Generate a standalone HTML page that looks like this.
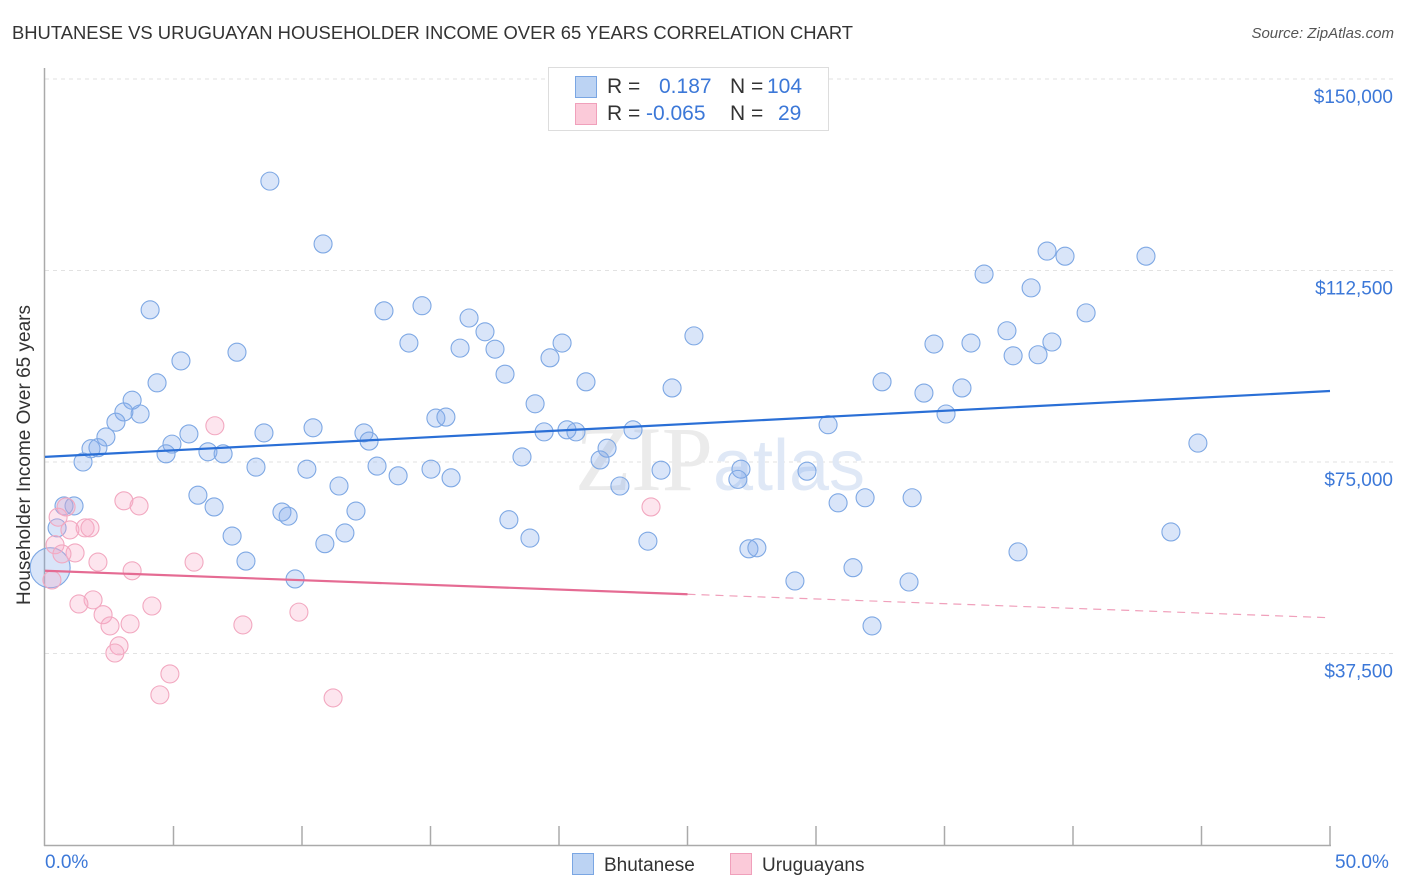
<!DOCTYPE html>
<html><head><meta charset="utf-8"><style>
body{margin:0;background:#fff;font-family:"Liberation Sans",sans-serif;}
#wrap{position:relative;width:1406px;height:892px;overflow:hidden;}
.t{position:absolute;white-space:nowrap;}
</style></head><body>
<div id="wrap">
<div class="t" style="left:12px;top:22px;font-size:18.4px;color:#333;">BHUTANESE VS URUGUAYAN HOUSEHOLDER INCOME OVER 65 YEARS CORRELATION CHART</div>
<div class="t" style="right:12px;top:25px;font-size:15px;color:#555;font-style:italic;">Source: ZipAtlas.com</div>
<svg id="svg" width="1406" height="892" style="position:absolute;left:0;top:0"></svg>
</div>
<script>
const blueX=[8.75,10.82,4.09,13.19,14.67,16.5,17.12,14.16,16.15,17.51,20.12,19.65,5.29,7.47,4.36,17.9,21.05,19.07,3.39,3.07,3.7,2.76,2.37,1.79,2.06,1.48,4.94,4.71,5.6,6.34,6.93,8.52,10.43,12.41,12.61,15.21,15.6,19.42,20.31,20.66,22.88,21.87,21.6,18.56,8.21,10.19,12.92,15.02,15.8,13.74,11.44,22.37,23.97,24.4,25.25,5.95,6.58,9.22,9.46,12.1,10.89,11.67,7.28,7.82,9.73,18.05,18.87,23.46,27.08,26.96,29.65,27.39,27.7,29.18,30.86,31.91,33.74,31.44,32.18,33.62,37.86,43.81,44.86,30.47,32.57,34.2,35.06,35.68,34.59,36.03,37.43,37.67,38.64,39.18,38.37,36.54,38.99,39.69,42.84,40.51,1.13,0.74,0.47,0.2];
const blueY=[130000,117700,104800,104600,105600,103200,100500,98300,97300,97100,98300,95400,94800,96500,90500,92200,90700,86400,87100,84800,84400,82800,79900,77600,77800,75000,78500,76600,80500,77000,76600,80700,81700,80700,79100,83600,83800,80900,81300,80900,81300,77700,75400,76000,74000,73600,74200,73600,71900,72300,70300,70300,73400,89500,99700,68500,66200,65200,64400,65400,59000,61100,60500,55600,52100,63700,60100,59500,73600,71600,73200,58000,58200,51700,67000,68000,68000,54300,42900,51500,57400,61300,78700,82300,90700,88500,84400,89500,98100,98300,100700,95800,96000,98500,109100,111800,116300,115300,115300,104200,66400,66400,62100,54300];
const pinkX=[6.61,3.07,3.66,0.82,0.51,1.56,1.75,0.97,0.39,1.17,2.06,3.39,5.8,0.27,1.87,1.32,4.16,2.26,2.53,3.31,7.7,9.88,2.88,2.72,4.86,4.47,11.21,23.58,0.66];
const pinkY=[82100,67400,66400,66200,64200,62100,62100,61700,58800,57200,55400,53700,55400,51900,48000,47200,46800,45100,42900,43300,43100,45600,39000,37600,33500,29400,28800,66200,57000];
const blueTrend=[76000,88900];
const pinkTrend=[53700,44500];
const yTicks=[37500,75000,112500,150000];
const yTickLabels=["$37,500","$75,000","$112,500","$150,000"];
const NS="http://www.w3.org/2000/svg";
const svg=document.getElementById('svg');
const X=p=>45+p*25.7;
const Y=v=>79+(150000-v)/37500*191.5;
function mk(tag,at,parent){const e=document.createElementNS(NS,tag);for(const k in at)e.setAttribute(k,at[k]);(parent||svg).appendChild(e);return e;}
yTicks.forEach((v,i)=>{
 const g=mk('line',{x1:45,x2:1395,y1:Y(v),y2:Y(v),stroke:'#e2e2e2','stroke-dasharray':'4,4'});
 
 
 const t=mk('text',{x:1393,y:Y(v)+24,'text-anchor':'end','font-size':19,fill:'#3c78d8','font-family':'Liberation Sans, sans-serif'});
 t.textContent=yTickLabels[i];
 
 
});
const ya=mk('line',{x1:44.5,x2:44.5,y1:68,y2:846,stroke:'#aaa','stroke-width':1.5});


const xa=mk('line',{x1:44,x2:1331,y1:845.5,y2:845.5,stroke:'#aaa','stroke-width':1.5});


for(let i=1;i<=10;i++){const tk=mk('line',{x1:X(i*5),x2:X(i*5),y1:826,y2:846,stroke:'#aaa','stroke-width':1.5});

}
const wm=mk('text',{x:720,y:490,'text-anchor':'middle','font-size':92,fill:'#ebebeb','font-family':'Liberation Serif, serif'});
wm.innerHTML='ZIP<tspan fill="#dfe8f6" font-family="Liberation Sans, sans-serif" font-size="72">atlas</tspan>';


function dots(xs,ys,fill,stroke,name){xs.forEach((p,i)=>{const big=(name==='bhutanese-point'&&i===xs.length-1);
 const c=mk('circle',{cx:X(p),cy:Y(ys[i]),r:big?20:9,fill:fill,stroke:stroke,'stroke-width':1.1});
 
 });}
dots(blueX,blueY,'rgba(130,170,235,0.3)','#7ea8e4','bhutanese-point');
dots(pinkX,pinkY,'rgba(248,170,198,0.3)','#f2a8c0','uruguayan-point');
const bl=mk('line',{x1:X(0),y1:Y(blueTrend[0]),x2:X(50),y2:Y(blueTrend[1]),stroke:'#2a6fd6','stroke-width':2.2});


const pm=(pinkTrend[0]+pinkTrend[1])/2;
const pl=mk('line',{x1:X(0),y1:Y(pinkTrend[0]),x2:X(25),y2:Y(pm),stroke:'#e56b93','stroke-width':2.2});


const pd=mk('line',{x1:X(25),y1:Y(pm),x2:X(50),y2:Y(pinkTrend[1]),stroke:'#f0a0bb','stroke-width':1.2,'stroke-dasharray':'8,6'});


</script>
<div class="t" style="left:-135px;top:444px;width:320px;text-align:center;font-size:19px;color:#333;transform:rotate(-90deg);">Householder Income Over 65 years</div>
<div class="t" style="left:45px;top:852px;font-size:19px;color:#3c78d8;">0.0%</div>
<div class="t" style="left:1335px;top:852px;font-size:19px;color:#3c78d8;">50.0%</div>
<div style="position:absolute;left:548px;top:67px;width:279px;height:62px;border:1px solid #ddd;background:#fff;font-size:21px;">
 <div style="position:absolute;left:26px;top:8px;width:20px;height:20px;background:#bcd3f3;border:1px solid #7aa6e3;"></div>
 <div style="position:absolute;left:26px;top:35px;width:20px;height:20px;background:#fbcad9;border:1px solid #f0a0bb;"></div>
 <div class="t" style="left:58px;top:7px;color:#333;">R =</div>
 <div class="t" style="left:110px;top:7px;color:#3c78d8;">0.187</div>
 <div class="t" style="left:181px;top:7px;color:#333;">N =</div>
 <div class="t" style="left:218px;top:7px;color:#3c78d8;">104</div>
 <div class="t" style="left:58px;top:34px;color:#333;">R =</div>
 <div class="t" style="left:97px;top:34px;color:#3c78d8;">-0.065</div>
 <div class="t" style="left:181px;top:34px;color:#333;">N =</div>
 <div class="t" style="left:229px;top:34px;color:#3c78d8;">29</div>
</div>
<div style="position:absolute;left:572px;top:853px;font-size:19px;color:#333;">
 <span style="display:inline-block;width:20px;height:20px;background:#bcd3f3;border:1px solid #7aa6e3;vertical-align:-4px;margin-right:10px;"></span>Bhutanese</div>
<div style="position:absolute;left:730px;top:853px;font-size:19px;color:#333;">
 <span style="display:inline-block;width:20px;height:20px;background:#fbcad9;border:1px solid #f0a0bb;vertical-align:-4px;margin-right:10px;"></span>Uruguayans</div>
</body></html>
